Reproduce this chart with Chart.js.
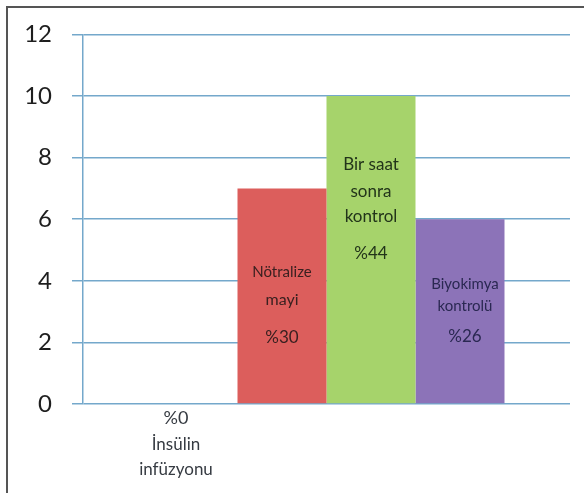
<!DOCTYPE html>
<html>
<head>
<meta charset="utf-8">
<script src="https://cdn.jsdelivr.net/npm/chart.js@4.4.1/dist/chart.umd.min.js"></script>
<style>
  html, body { margin: 0; padding: 0; background: #fff; }
  #wrap { position: relative; width: 584px; height: 493px; }
  #frame { position: absolute; left: 6px; top: 6px; right: -4px; bottom: -4px;
           border-left: 2px solid #555; border-top: 2px solid #555; pointer-events: none; }
  canvas { display: block; }
</style>
</head>
<body>
<div id="wrap">
  <canvas id="c" width="584" height="493"></canvas>
  <div id="frame"></div>
</div>
<script>
// Series shown side by side in a single group
const seriesNames = ['İnsülin infüzyonu', 'Nötralize mayi', 'Bir saat sonra kontrol', 'Biyokimya kontrolü'];
const seriesValues = [0, 7, 10, 6];
const seriesPercent = ['%0', '%30', '%44', '%26'];
const yTicks = [0, 2, 4, 6, 8, 10, 12];

// Text written on / under each bar
const barTextLines = [
  ['%0', 'İnsülin', 'infüzyonu'],
  ['Nötralize', 'mayi', '%30'],
  ['Bir saat', 'sonra', 'kontrol', '%44'],
  ['Biyokimya', 'kontrolü', '%26']
];

const barColors = ['#ffffff', '#dc5e5c', '#a6d36b', '#8c73b8'];
const gridBlue = '#74a8cb';

// Placement of the text lines, measured from the top of each bar
const textStyle = [
  { dx: -17, dy: [14, 41, 66], size: [18, 17, 17], color: '#363b42', family: 'Lato' },
  { dx: 0, dy: [84, 111, 149], size: [15, 16, 17], color: '#3a2020', family: 'Lato' },
  { dx: 0, dy: [69, 96, 121, 158], size: [17, 17, 17, 17], color: '#22341a', family: 'Lato' },
  { dx: 5, dy: [65, 87, 117], size: [15, 15, 17], color: '#2a2852', family: 'Lato' }
];

const barText = {
  id: 'barText',
  afterDatasetsDraw(chart) {
    const ctx = chart.ctx;
    ctx.save();
    ctx.textAlign = 'center';
    ctx.textBaseline = 'middle';
    chart.data.datasets.forEach((ds, i) => {
      const el = chart.getDatasetMeta(i).data[0];
      const st = textStyle[i];
      barTextLines[i].forEach((line, j) => {
        ctx.font = st.size[j] + 'px ' + st.family;
        ctx.fillStyle = st.color;
        ctx.fillText(line, el.x + st.dx, el.y + st.dy[j]);
      });
    });
    ctx.restore();
  }
};

new Chart(document.getElementById('c'), {
  type: 'bar',
  data: {
    labels: [''],
    datasets: seriesNames.map((name, i) => ({
      label: name,
      data: [seriesValues[i]],
      backgroundColor: barColors[i],
      borderWidth: 0,
      categoryPercentage: 0.731,
      barPercentage: 1.0
    }))
  },
  options: {
    responsive: false,
    animation: false,
    devicePixelRatio: 1,
    layout: { padding: { top: 33, right: 14, bottom: 89, left: 0 } },
    plugins: { legend: { display: false }, tooltip: { enabled: false } },
    scales: {
      x: { display: false, grid: { display: false } },
      y: {
        min: 0,
        max: 12,
        afterBuildTicks(scale) { scale.ticks = yTicks.map(v => ({ value: v })); },
        afterFit(scale) { scale.width = 83; },
        grid: { color: gridBlue, lineWidth: 1.5, tickLength: 11, drawTicks: true },
        border: { display: true, color: gridBlue, width: 1.5 },
        ticks: {
          padding: 20,
          color: '#1e1e1e',
          font: { family: 'Lato', size: 24 }
        }
      }
    }
  },
  plugins: [barText]
});
</script>
</body>
</html>
